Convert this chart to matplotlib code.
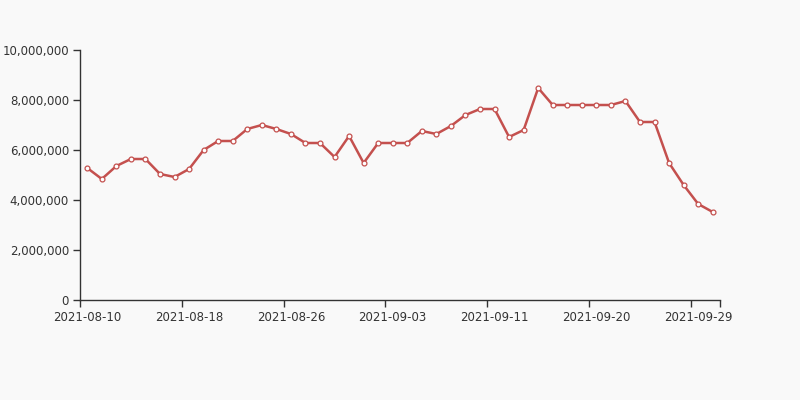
import matplotlib
matplotlib.use('Agg')
import matplotlib.pyplot as plt
import matplotlib.ticker as ticker

# Values (44 points)
values = [5280000, 4840000, 5360000, 5640000, 5640000, 5040000, 4920000, 5240000, 6000000, 6360000,
          6360000, 6840000, 7000000, 6840000, 6640000, 6280000, 6280000, 5720000, 6560000, 5480000,
          6280000, 6280000, 6280000, 6760000, 6640000, 6960000, 7400000, 7640000, 7640000, 6520000,
          6800000, 8480000, 7800000, 7800000, 7800000, 7800000, 7800000, 7960000, 7120000, 7120000,
          5480000, 4600000, 3840000, 3520000]
label_idx = [0, 7, 14, 21, 28, 35, 42]
tick_labels = ['2021-08-10', '2021-08-18', '2021-08-26', '2021-09-03',
               '2021-09-11', '2021-09-20', '2021-09-29']
y_ticks = [0, 2000000, 4000000, 6000000, 8000000, 10000000]

bg = '#f9f9f9'
txt = '#333333'
line_color = '#c4504e'

fig = plt.figure(figsize=(8, 4), dpi=100, facecolor=bg)
ax = fig.add_axes([0.1, 0.25, 0.8, 0.625])
ax.set_facecolor(bg)

x = list(range(len(values)))
ax.plot(x, values, color=line_color, lw=1.8, marker='o', markersize=3.5,
        markerfacecolor='white', markeredgecolor=line_color, markeredgewidth=0.9, zorder=3)

n = len(values)
ax.set_xlim(-0.5, n - 0.5)
ax.set_ylim(0, 10000000)

# ticks at category boundaries, labels at category centers
boundaries = [i - 0.5 for i in label_idx] + [n - 0.5]
ax.set_xticks(boundaries)
ax.set_xticklabels([''] * len(boundaries))
ax.set_xticks(label_idx, minor=True)
ax.set_xticklabels(tick_labels, minor=True)
ax.tick_params(axis='x', which='major', length=5, width=1, color=txt)
ax.tick_params(axis='x', which='minor', length=0, pad=8, labelsize=8.5, labelcolor=txt)

ax.set_yticks(y_ticks)
ax.yaxis.set_major_formatter(ticker.FuncFormatter(lambda v, p: '{:,.0f}'.format(v)))
ax.tick_params(axis='y', length=5, width=1, color=txt, labelsize=8.5, labelcolor=txt, pad=3)

for s in ['top', 'right']:
    ax.spines[s].set_visible(False)
for s in ['left', 'bottom']:
    ax.spines[s].set_color(txt)
    ax.spines[s].set_linewidth(1)

fig.savefig('out.png', dpi=100, facecolor=bg)
